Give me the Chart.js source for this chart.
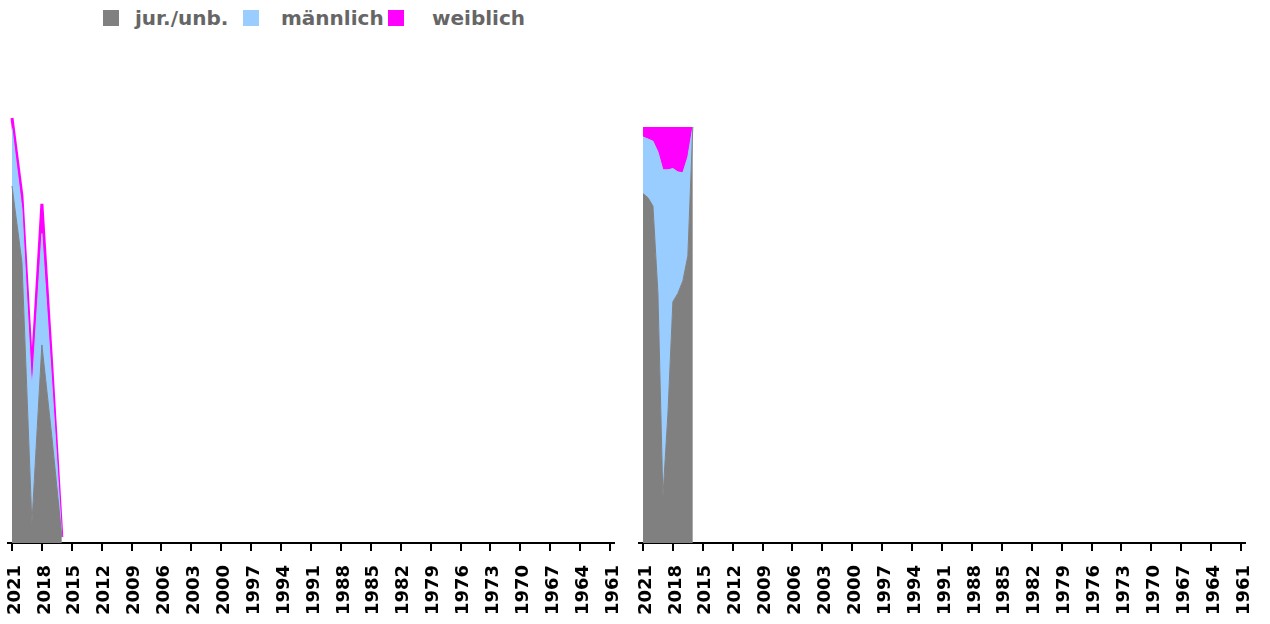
<!DOCTYPE html>
<html>
<head>
<meta charset="utf-8">
<title>Entwicklung nach Geschlecht</title>
<script src="https://cdn.jsdelivr.net/npm/chart.js@4.4.1/dist/chart.umd.min.js"></script>
<style>
    body { margin: 0; width: 1270px; height: 624px; overflow: hidden; position: relative; background: #fff; font-family: "DejaVu Sans", sans-serif; }
    .legend-item { position: absolute; top: 5px; height: 26px; display: flex; align-items: center; font-weight: bold; font-size: 20px; color: #666; }
    .swatch { position: absolute; top: 10px; width: 16px; height: 16px; }
    canvas { position: absolute; top: 0; }
</style>
</head>
<body>
<div class="swatch" style="left:103px;background:#808080"></div>
<div class="legend-item" style="left:135px">jur./unb.</div>
<div class="swatch" style="left:243px;background:#99ccff"></div>
<div class="legend-item" style="left:281px">männlich</div>
<div class="swatch" style="left:388px;background:#ff00ff"></div>
<div class="legend-item" style="left:432px">weiblich</div>

<canvas id="chartAbs" width="635" height="624" style="left:0"></canvas>
<canvas id="chartPct" width="635" height="624" style="left:635px"></canvas>

<script>
// axis labels, every third year
const tickYears = [2021, 2018, 2015, 2012, 2009, 2006, 2003, 2000, 1997, 1994, 1991,
    1988, 1985, 1982, 1979, 1976, 1973, 1970, 1967, 1964, 1961];

// absolute numbers per year
const years = [2021, 2020, 2019, 2018, 2017, 2016];
const jurUnb = [42, 33, 2.3, 23.3, 12.5, 0.7];
const maennlich = [6.8, 6.3, 15.6, 13.1, 6.3, 0];
const weiblich = [1.2, 1.5, 2.1, 3.5, 1.9, 0];

// shares in percent, half-year steps
const shareYears = [2021, 2020.5, 2020, 2019.5, 2019, 2018.5, 2018, 2017.5, 2017, 2016.5, 2016];
const shareJurUnb = [84, 83, 81, 60, 11, 31, 58, 60, 63, 69, 100];
const shareWeiblich = [2.4, 2.9, 3.4, 6, 10.3, 10.3, 10, 10.8, 11, 7.2, 0];
const shareMaennlich = [13.6, 14.1, 15.6, 34, 78.7, 58.7, 32, 29.2, 26, 23.8, 0];

const colors = { jur: '#808080', male: '#99ccff', female: '#ff00ff' };

function toPoints(xs, ys) {
    return xs.map((x, i) => ({ x: x, y: ys[i] }));
}

function makeDatasets(xs, a, b, c, femaleBorder) {
    return [
        { label: 'jur./unb.', data: toPoints(xs, a), backgroundColor: colors.jur, borderColor: colors.jur, borderWidth: 1, fill: 'origin' },
        { label: 'männlich', data: toPoints(xs, b), backgroundColor: colors.male, borderColor: colors.male, borderWidth: 1, fill: '-1' },
        { label: 'weiblich', data: toPoints(xs, c), backgroundColor: colors.female, borderColor: colors.female, borderWidth: femaleBorder, fill: '-1' }
    ];
}

function xAxis() {
    return {
        type: 'linear',
        reverse: true,
        min: 1960.6,
        max: 2021.4,
        afterBuildTicks: scale => { scale.ticks = tickYears.map(v => ({ value: v })); },
        afterFit: scale => {
            // fixed axis height, and no extra inset for the rotated end labels
            scale.height = 81;
            scale.paddingLeft = 0;
            scale.paddingRight = 0;
        },
        border: { display: true, color: '#000', width: 2 },
        grid: { drawOnChartArea: false, drawTicks: true, tickLength: 8, color: '#000', lineWidth: 2 },
        ticks: {
            autoSkip: false,
            minRotation: 90,
            maxRotation: 90,
            padding: 14,
            labelOffset: 3,
            color: '#000',
            font: { family: 'DejaVu Sans', size: 18, weight: 'bold' },
            callback: v => String(v)
        }
    };
}

function makeChart(id, datasets, yMax, padding) {
    return new Chart(document.getElementById(id), {
        type: 'line',
        data: { datasets: datasets },
        options: {
            responsive: false,
            animation: false,
            devicePixelRatio: 1,
            layout: { padding: padding },
            elements: { point: { radius: 0 }, line: { tension: 0 } },
            plugins: { legend: { display: false }, tooltip: { enabled: false } },
            scales: {
                x: xAxis(),
                y: { display: false, stacked: true, min: 0, max: yMax }
            }
        }
    });
}

makeChart('chartAbs', makeDatasets(years, jurUnb, maennlich, weiblich, 3), 52,
    { left: 8, right: 21, top: 101, bottom: 0 });
makeChart('chartPct', makeDatasets(shareYears, shareJurUnb, shareMaennlich, shareWeiblich, 0), 100,
    { left: 4, right: 25, top: 127, bottom: 0 });
</script>
</body>
</html>
